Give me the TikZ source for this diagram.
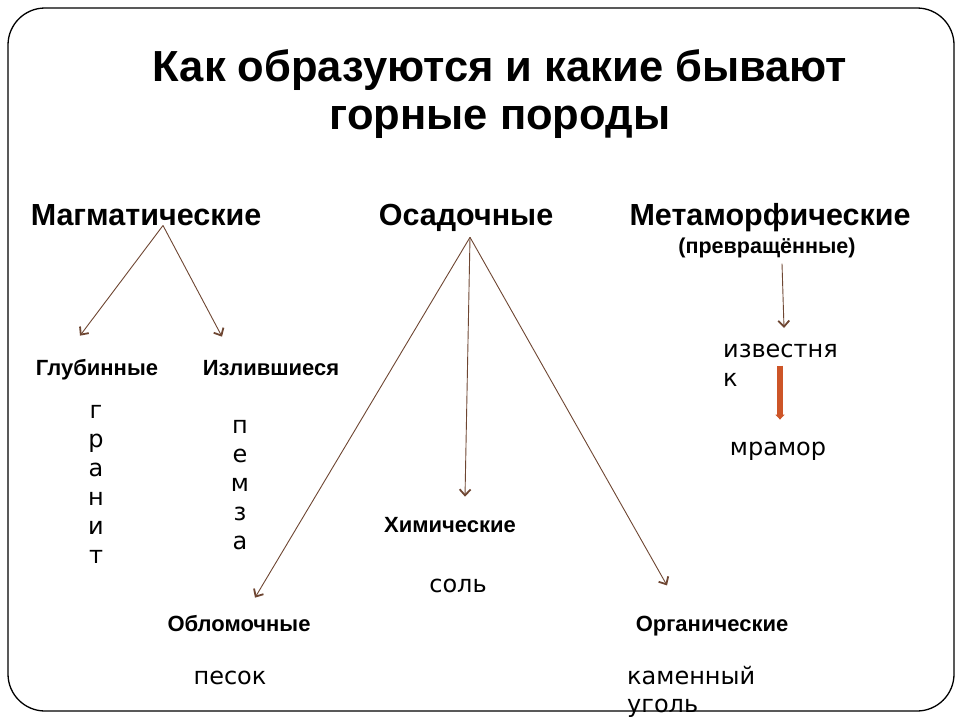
\documentclass[tikz,border=0pt]{standalone}
\usepackage{fontspec}
\setmainfont{Liberation Sans}
\newfontfamily\dejavu{DejaVu Sans}
\usetikzlibrary{arrows.meta}
\definecolor{arrowbrown}{RGB}{110,70,50}
\definecolor{rockred}{RGB}{205,85,40}

\begin{document}
\begin{tikzpicture}[x=1pt,y=-1pt,
    title/.style={font=\bfseries\fontsize{43.5}{48}\selectfont, align=center, inner sep=0pt},
    group/.style={font=\bfseries\fontsize{30.5}{34}\selectfont, inner sep=0pt, anchor=base},
    kind/.style={font=\bfseries\fontsize{22}{24}\selectfont, inner sep=0pt, anchor=base},
    rock/.style={font=\dejavu\fontsize{24}{28.5}\selectfont, inner sep=0pt},
    letters/.style={font=\dejavu\fontsize{24}{29}\selectfont, inner sep=0pt, align=center, anchor=north},
    arr/.style={draw=arrowbrown, line width=0.9pt, -{Straight Barb[length=6pt,width=11pt,line width=1.8pt]}},
  ]
        \useasboundingbox (0,0) rectangle (960,720);

        %Frame
        \draw [line width=1.3pt, rounded corners=37pt] (8,8) rectangle (954,711);

        %Title
        \node [title] (title) at (500,94) {Как образуются и какие бывают\\горные породы};

        %Groups
        \node [group] (magm) at (146,225) {Магматические};
        \node [group] (osad) at (466,225) {Осадочные};
        \node [group] (meta) at (770,225) {Метаморфические};
        \node [font=\bfseries\fontsize{21.5}{24}\selectfont, inner sep=0pt, anchor=base] (prevr) at (767,253) {(превращённые)};

        %Magmatic
        \node [kind] (glub) at (97,375) {Глубинные};
        \node [kind] (izl) at (271,375) {Излившиеся};
        \node [letters] (granit) at (96,405) {г\\р\\а\\н\\и\\т};
        \node [letters] (pemza) at (240,420) {п\\е\\м\\з\\а};
        \draw [arr] ([xshift=17pt]magm.south) -- ([xshift=-17pt,yshift=23pt]glub.north);
        \draw [arr] ([xshift=17pt]magm.south) -- ([xshift=-49pt,yshift=23pt]izl.north);

        %Sedimentary
        \node [kind] (khim) at (450,532) {Химические};
        \node [rock] (sol) at (458,586) {соль};
        \node [kind] (oblom) at (239,631) {Обломочные};
        \node [rock] (pesok) at (230,678) {песок};
        \node [kind] (organ) at (712,631) {Органические};
        \node [rock, align=left, anchor=north west] (ugol) at (627,666) {каменный\\уголь};
        \draw [arr] ([xshift=4pt,yshift=-6pt]osad.south) -- ([xshift=16pt,yshift=17pt]oblom.north);
        \draw [arr] ([xshift=4pt,yshift=-6pt]osad.south) -- ([xshift=15pt,yshift=20pt]khim.north);
        \draw [arr] ([xshift=4pt,yshift=-6pt]osad.south) -- ([xshift=-45pt,yshift=30pt]organ.north);

        %Metamorphic
        \node [rock, align=left, anchor=north west] (izv) at (723,344) {известня\\к};
        \node [rock] (mram) at (778,451) {мрамор};
        \draw [arr] ([xshift=15pt,yshift=-6pt]prevr.south) -- ([xshift=61pt,yshift=16pt]izv.north west);
        \draw [rockred, line width=6.5pt, -{Triangle[length=5pt,width=9pt]}] ([xshift=2pt,yshift=76pt]mram.north) -- ([xshift=2pt,yshift=22pt]mram.north);

\end{tikzpicture}
\end{document}
